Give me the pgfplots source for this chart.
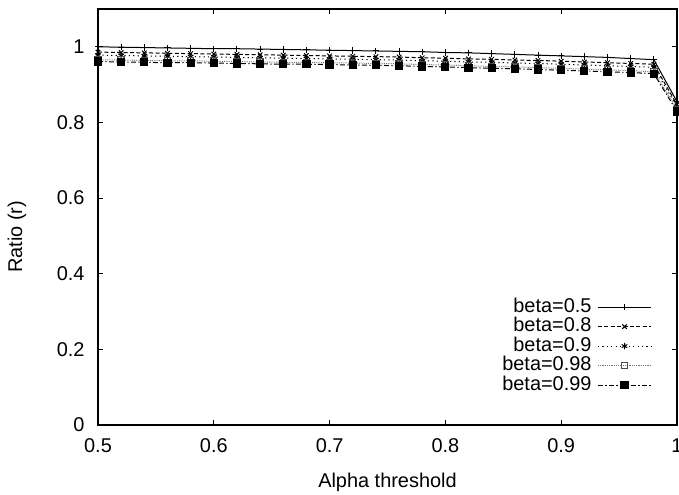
\documentclass[border=0pt]{standalone}
\usepackage{fontspec}
\setmainfont{Liberation Sans}
\usepackage{pgfplots}
\pgfplotsset{compat=1.18}
\usepackage{pgfplotstable}

\pgfplotstableread{
x    b05   b08   b09   b098  b099
0.50 1.000 0.986 0.978 0.966 0.961
0.52 0.999 0.985 0.977 0.965 0.960
0.54 0.998 0.984 0.976 0.964 0.959
0.56 0.997 0.983 0.975 0.963 0.958
0.58 0.996 0.982 0.974 0.963 0.958
0.60 0.995 0.981 0.973 0.962 0.957
0.62 0.995 0.980 0.972 0.961 0.956
0.64 0.994 0.979 0.971 0.960 0.955
0.66 0.993 0.978 0.970 0.959 0.954
0.68 0.992 0.977 0.969 0.959 0.954
0.70 0.991 0.976 0.968 0.958 0.953
0.72 0.990 0.975 0.967 0.957 0.952
0.74 0.989 0.974 0.966 0.956 0.951
0.76 0.988 0.973 0.965 0.955 0.950
0.78 0.987 0.971 0.963 0.953 0.948
0.80 0.985 0.970 0.962 0.952 0.947
0.82 0.984 0.968 0.960 0.950 0.945
0.84 0.982 0.967 0.959 0.948 0.943
0.86 0.980 0.965 0.957 0.947 0.942
0.88 0.978 0.964 0.956 0.945 0.940
0.90 0.976 0.962 0.954 0.943 0.938
0.92 0.974 0.960 0.952 0.941 0.936
0.94 0.972 0.958 0.950 0.939 0.934
0.96 0.969 0.956 0.948 0.937 0.932
0.98 0.966 0.954 0.946 0.934 0.929
1.00 0.855 0.847 0.841 0.835 0.829
}\data

\begin{document}
\begin{tikzpicture}
\begin{axis}[name=ax, scale only axis, width=289.5bp, height=208bp,
  xmin=0.5, xmax=1, ymin=0, ymax=1.1,
  xtick={0.5,0.6,0.7,0.8,0.9,1},
  ytick={0,0.2,0.4,0.6,0.8,1},
  tick align=inside, major tick length=2.5bp,
  axis line style={line width=0.8bp},
  every tick/.style={line width=0.5bp, black},
  /pgf/number format/assume math mode=true,
  xticklabel style={yshift=-3.5bp},
  yticklabel style={xshift=-3.2bp},
  xlabel={Alpha threshold}, ylabel={Ratio (r)},
  x label style={at={(axis description cs:0.5,-0.1514)}, anchor=base},
  y label style={at={(axis description cs:-0.1399,0.452)}, anchor=center},
  legend plot pos=right,
  legend cell align=right,
  legend style={draw=none, fill=none, at={(axis description cs:0.967,0.0619)}, anchor=south east,
    nodes={inner xsep=3bp, inner ysep=0pt, text height=7.5bp, text depth=2.25bp},
    row sep=0pt, column sep=0pt},
  legend image code/.code={\draw[mark repeat=2,mark phase=2,#1] plot coordinates {(0bp,0bp) (13.25bp,0bp) (26.5bp,0bp)};},
]
\addplot[black, line width=0.5bp, mark=+, mark size=1.6bp, mark options={solid}] table[x=x,y=b05]{\data};
\addlegendentry{beta=0.5}
\addplot[black, line width=0.5bp, dash pattern=on 2bp off 1.2bp, mark=x, mark size=1.6bp, mark options={solid}] table[x=x,y=b08]{\data};
\addlegendentry{beta=0.8}
\addplot[black, line width=0.5bp, dash pattern=on 0.6bp off 1.6bp, mark=asterisk, mark size=1.6bp, mark options={solid}] table[x=x,y=b09]{\data};
\addlegendentry{beta=0.9}
\addplot[black!55, line width=0.5bp, dash pattern=on 0.4bp off 0.5bp, mark=square, mark size=1.6bp, mark options={solid, black!70}] table[x=x,y=b098]{\data};
\addlegendentry{beta=0.98}
\addplot[black, line width=0.5bp, dash pattern=on 2.5bp off 1.2bp on 0.6bp off 1.2bp, mark=square*, mark size=1.8bp, mark options={solid}] table[x=x,y=b099]{\data};
\addlegendentry{beta=0.99}
\end{axis}
\pgfresetboundingbox
\path ([xshift=-49bp,yshift=-35bp]ax.south west) rectangle ([xshift=1bp,yshift=4.5bp]ax.north east);
\end{tikzpicture}
\end{document}
